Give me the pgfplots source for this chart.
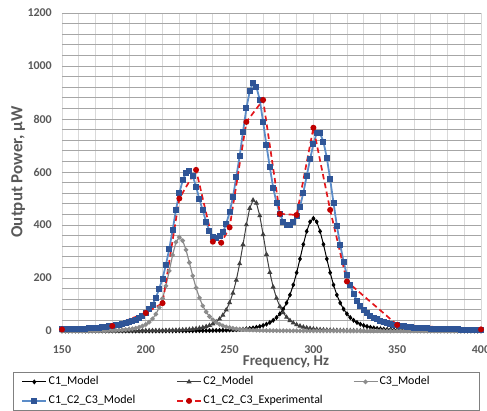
\documentclass[border=0pt]{standalone}
\usepackage{pgfplots}
\usepackage{pgfplotstable}
\pgfplotsset{compat=1.18}
\usepackage{fontspec}
\setmainfont{Carlito}

\definecolor{gridmajor}{HTML}{A6A6A6}
\definecolor{gridminor}{HTML}{D9D9D9}
\definecolor{labelgray}{HTML}{595959}
\definecolor{ctwo}{HTML}{404040}
\definecolor{cthree}{HTML}{8C8C8C}
\definecolor{sumline}{HTML}{5B8CC8}
\definecolor{summark}{HTML}{2F5597}
\definecolor{expred}{HTML}{E3171C}
\definecolor{expmark}{HTML}{C00000}

% Model output power (uW) of each cantilever and of the combined array
\pgfplotstableread{
f   c1    c2    c3    sum
150 0.1   0.1   0.3   6
152 0.1   0.1   0.3   6.5
154 0.1   0.1   0.4   7
156 0.1   0.1   0.4   7
158 0.1   0.2   0.5   7.5
160 0.1   0.2   0.5   8
162 0.1   0.2   0.6   8.5
164 0.1   0.2   0.7   9
166 0.1   0.2   0.8   10
168 0.1   0.2   0.9   11
170 0.1   0.3   1.05  12
172 0.1   0.3   1.2   13
174 0.1   0.3   1.4   14
176 0.1   0.3   1.7   15
178 0.1   0.4   2.0   17
180 0.1   0.4   2.4   19
182 0.2   0.4   2.9   21
184 0.2   0.5   3.5   23
186 0.2   0.5   4.3   26
188 0.2   0.55  5.4   29
190 0.2   0.6   6.7   33
192 0.2   0.65  8.5   37
194 0.2   0.7   10.9  42
196 0.2   0.8   14.2  48
198 0.3   0.9   18.6  56
200 0.3   1.0   24.8  67
202 0.3   1.1   33.5  82
204 0.3   1.2   45.9  100
206 0.4   1.4   63.5  125
208 0.4   1.55  88.5  160
210 0.4   1.75  123   198
212 0.4   2.0   170   250
214 0.5   2.3   227   310
216 0.5   2.6   287   380
218 0.6   3.0   335   458
220 0.6   3.5   354   520
222 0.7   4.2   341   568
224 0.8   5.0   306   598
226 0.9   5.9   258   604
228 0.9   7.2   208   585
230 1.1   8.7   163   545
232 1.2   10.7  125   497
234 1.3   13.3  94.8  455
236 1.5   16.6  72    412
238 1.7   21.0  54.8  378
240 1.9   26.9  42    356
242 2.1   34.7  32.5  350
244 2.4   45.3  25.3  357
246 2.8   59.8  19.9  372
248 3.2   79.6  15.8  405
250 3.7   107   12.7  448
252 4.3   143   10.3  505
254 5.0   192   8.4   582
256 5.8   254   6.9   660
258 6.8   326   5.7   752
260 8.1   401   4.8   840
262 9.6   463   4.0   905
264 11.6  494   3.4   937
266 14.0  483   2.9   921
268 17.0  435   2.5   872
270 20.8  364   2.1   789
272 25.8  289   1.8   700
274 32.1  221   1.6   618
276 40.2  166   1.4   541
278 50.9  124   1.2   484
280 64.7  92    1.1   442
282 82.8  68.9  1.0   412
284 106   52    0.9   400
286 136   39.6  0.8   400
288 174   30.5  0.7   410
290 220   23.7  0.6   435
292 272   18.7  0.55  469
294 327   14.8  0.5   522
296 376   11.9  0.45  585
298 412   9.7   0.4   648
300 425   7.9   0.36  705
302 412   6.5   0.33  748
304 376   5.4   0.3   746
306 327   4.5   0.28  714
308 272   3.8   0.26  654
310 220   3.3   0.24  572
312 174   2.8   0.22  484
314 136   2.4   0.2   397
316 106   2.1   0.18  325
318 82.8  1.9   0.17  262
320 64.7  1.7   0.15  211
322 50.9  1.5   0.14  172
324 40.2  1.3   0.13  140
326 32.1  1.2   0.12  115
328 25.8  1.0   0.11  95
330 20.8  0.9   0.1   79
332 17.0  0.8   0.1   67
334 14.0  0.8   0.1   57
336 11.6  0.7   0.1   50
338 9.6   0.6   0.1   44
340 8.1   0.6   0.1   39
342 6.8   0.5   0.1   34
344 5.8   0.5   0.1   30
346 5.0   0.4   0.1   27
348 4.3   0.4   0.1   24
350 3.7   0.4   0.1   21
352 3.2   0.3   0.1   19
354 2.8   0.3   0.1   17
356 2.4   0.3   0.1   15.5
358 2.1   0.3   0.1   14
360 1.9   0.2   0.1   13
362 1.7   0.2   0.1   12
364 1.5   0.2   0.1   11
366 1.3   0.2   0.1   10
368 1.2   0.2   0.1   9.5
370 1.1   0.2   0.1   9
372 0.9   0.2   0.1   8.5
374 0.9   0.2   0.1   8
376 0.8   0.1   0.1   7.5
378 0.7   0.1   0.1   7
380 0.6   0.1   0.1   7
382 0.6   0.1   0.1   6.5
384 0.5   0.1   0.1   6
386 0.5   0.1   0.1   6
388 0.4   0.1   0.1   5.5
390 0.4   0.1   0.1   5.5
392 0.4   0.1   0.1   5
394 0.3   0.1   0.1   5
396 0.3   0.1   0.1   5
398 0.3   0.1   0.1   4.5
400 0.3   0.1   0.1   4.5
}\modeldata

% Measured output power of the array (uW)
\pgfplotstableread{
f   p
150 6
180 19
200 68
210 105
220 500
230 608
240 337
245 333
250 391
260 789
270 872
280 442
290 438
300 767
310 457
320 187
350 23
400 6
}\expdata

\begin{document}
\begin{tikzpicture}
\useasboundingbox (-62bp,-80bp) rectangle (425bp,331bp);
\begin{axis}[
  at={(0,0)}, anchor=south west,
  scale only axis, width=419bp, height=318bp,
  xmin=150, xmax=400, ymin=0, ymax=1200,
  xtick={150,200,...,400}, ytick={0,200,...,1200},
  minor x tick num=4, minor y tick num=4,
  grid=both,
  x grid style={gridminor, line width=0.8bp},
  y grid style={gridmajor, line width=0.8bp},
  minor grid style={gridminor, line width=0.8bp},
  major tick length=0pt, minor tick length=0pt,
  axis line style={draw=none},
  /pgf/number format/assume math mode=true,
  /pgf/number format/1000 sep={},
  ticklabel style={font=\fontsize{12}{14}\selectfont\bfseries, text=labelgray},
  xticklabel style={anchor=base, yshift=-22bp},
  yticklabel style={anchor=east, inner sep=0pt, xshift=-10bp},
  xlabel={Frequency, Hz},
  ylabel={Output Power, μW},
  every axis x label/.style={at={(axis description cs:0.5346,0)}, anchor=base, yshift=-34bp,
     font=\fontsize{15}{18}\selectfont\bfseries, text=labelgray},
  every axis y label/.style={at={(axis description cs:-0.0943,0.5)}, anchor=base, rotate=90,
     font=\fontsize{17}{20}\selectfont\bfseries, text=labelgray},
  legend columns=3,
  legend cell align=left,
  legend image code/.code={\draw[mark repeat=2,mark phase=2] plot coordinates {(0bp,0bp) (12bp,0bp) (24bp,0bp)};},
  legend style={at={(axis description cs:-0.1169,-0.1289)}, anchor=north west,
     draw=gray, line width=0.8bp, inner xsep=8bp, inner ysep=2.5bp,
     font=\fontsize{12}{14}\selectfont, row sep=5bp,
     nodes={inner sep=1.5bp, text height=8.5bp, text depth=2.5bp}},
]
\addplot[black, line width=1bp, mark=diamond*, mark size=1.8bp] table[x=f, y=c1] {\modeldata};
\addlegendentry{\makebox[126bp][l]{C1\_Model}}
\addplot[ctwo, line width=1bp, mark=triangle*, mark size=2bp] table[x=f, y=c2] {\modeldata};
\addlegendentry{\makebox[148bp][l]{C2\_Model}}
\addplot[cthree, line width=1.2bp, mark=*, mark size=1.7bp] table[x=f, y=c3] {\modeldata};
\addlegendentry{\makebox[90bp][l]{C3\_Model}}
\addplot[sumline, line width=1.8bp, mark=square*, mark size=2.1bp,
  mark options={fill=summark, draw=summark}] table[x=f, y=sum] {\modeldata};
\addlegendentry{C1\_C2\_C3\_Model}
\addplot[expred, line width=1.7bp, dash pattern=on 5.5bp off 3.5bp, mark=*, mark size=2.1bp,
  mark options={solid, fill=expmark, draw=expmark}] table[x=f, y=p] {\expdata};
\addlegendentry{C1\_C2\_C3\_Experimental}
\end{axis}
\end{tikzpicture}
\end{document}
